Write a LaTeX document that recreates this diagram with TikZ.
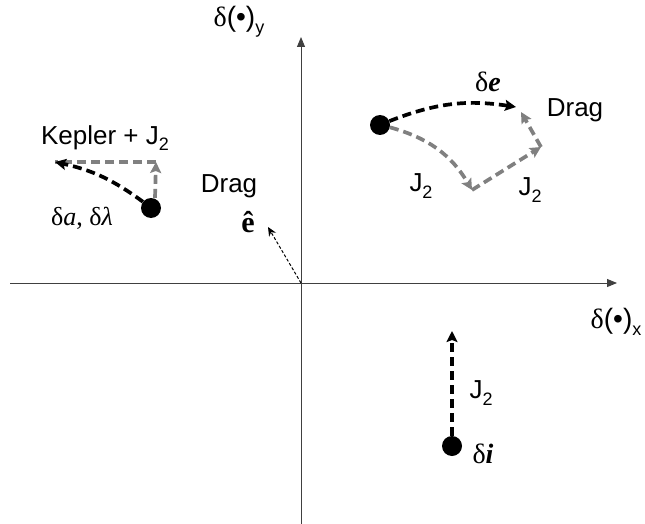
\documentclass[tikz,border=0pt]{standalone}
\usepackage{fontspec}
\setmainfont{Liberation Sans}
\newfontfamily\tms{Liberation Serif}
\usetikzlibrary{arrows.meta}
\newcommand\lowsub[1]{\raisebox{-0.45ex}{\fontsize{18}{18}\selectfont #1}}
\begin{document}
\begin{tikzpicture}[x=1pt,y=-1pt,
  lbl/.style={inner sep=0pt,font=\fontsize{26}{30}\selectfont},
  dotnode/.style={circle,fill=black,minimum size=20pt,inner sep=0pt},
  axisline/.style={draw=black!75,line width=1pt,-{Triangle[length=10pt,width=8pt]}},
  blk/.style={draw=black,line width=3.7pt,dash pattern=on 9pt off 5pt,-{Stealth[length=11pt,width=11pt,inset=2pt]}},
  gry/.style={draw=black!50,line width=3.7pt,dash pattern=on 9pt off 5pt,-{Stealth[length=11pt,width=11pt,inset=2pt]}}]
\useasboundingbox (0,0) rectangle (645,524);
% axes
\coordinate (xl) at (10,283);
\coordinate (xr) at (617,283);
\coordinate (yb) at (301,524);
\coordinate (yt) at (301,37);
\coordinate (o) at (301,283);
\draw[axisline] (xl) -- (xr);
\draw[axisline] (yb) -- (yt);
\node[lbl,font=\fontsize{28}{32}\selectfont] (ylab) at (239,22) {{\tms δ}(•)\lowsub{y}};
\node[lbl,font=\fontsize{28}{32}\selectfont] (xlab) at (616,322) {{\tms δ}(•)\lowsub{x}};
% e-hat
\coordinate (ehat) at (268,227);
\draw[line width=1pt,dash pattern=on 3pt off 2pt,-{Stealth[length=9pt,width=8pt]}] (o) -- (ehat);
\node[lbl,font=\fontsize{30}{34}\selectfont] (elab) at (248,222) {\tms\bfseries ê};
% left group
\node[dotnode] (d1) at (151,208) {};
\coordinate (c1) at (156,162);
\coordinate (l1) at (55,162);
\draw[gry,-] (c1) -- (l1);
\draw[gry] (d1.north) ++(4,0) coordinate (d1n) -- (c1);
\draw[blk] (d1) to[bend right=12] (l1);
\node[lbl] (kep) at (105,138) {Kepler + J\lowsub{2}};
\node[lbl] (drag1) at (229,186) {Drag};
\node[lbl] (dadl) at (82,218) {\tms δ\textit{a}, δ\textit{λ}};
% right group
\node[dotnode] (d2) at (380,125) {};
\coordinate (t2) at (516,107);
\coordinate (tg) at (521,112);
\coordinate (g1) at (472,190);
\coordinate (g2) at (541,147);
\draw[gry] (d2) to[bend left=22] (g1);
\draw[gry] (g1) -- (g2);
\draw[gry] (g2) -- (tg);
\draw[blk] (d2) to[bend left=15] (t2);
\node[lbl,font=\fontsize{28}{32}\selectfont] (de) at (488,82) {\tms δ\textbf{\textit{e}}};
\node[lbl] (drag2) at (575,110) {Drag};
\node[lbl] (j2a) at (421,186) {J\lowsub{2}};
\node[lbl] (j2b) at (530,190) {J\lowsub{2}};
% bottom group
\node[dotnode] (d3) at (452,446) {};
\coordinate (t3) at (452,331);
\draw[blk] (d3) -- (t3);
\node[lbl] (j2c) at (481,393) {J\lowsub{2}};
\node[lbl,font=\fontsize{28}{32}\selectfont] (di) at (483,454) {\tms δ\textbf{\textit{i}}};
\end{tikzpicture}
\end{document}
